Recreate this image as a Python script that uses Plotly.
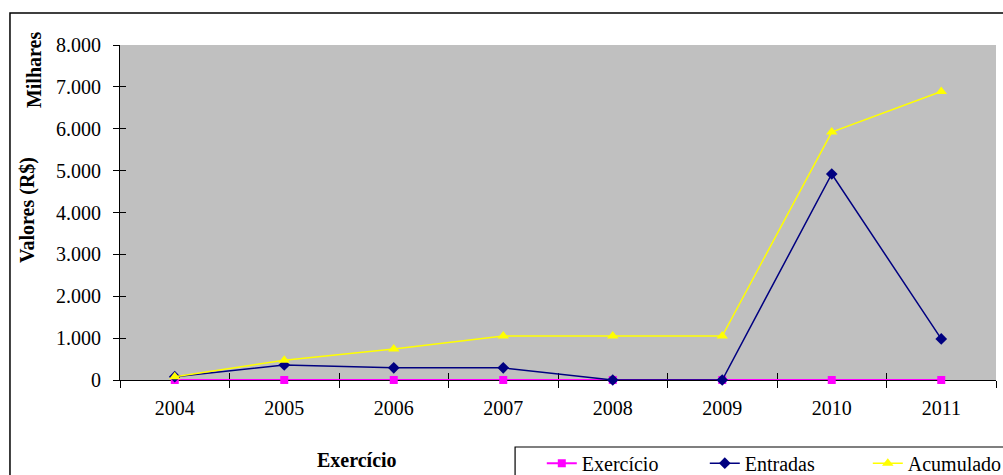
import plotly.graph_objects as go

anos = ["2004", "2005", "2006", "2007", "2008", "2009", "2010", "2011"]
exercicio = [0, 0, 0, 0, 0, 0, 0, 0]
entradas = [80, 360, 290, 290, 0, 0, 4920, 980]
acumulado = [80, 470, 740, 1050, 1050, 1050, 5920, 6890]
yticks = [0, 1000, 2000, 3000, 4000, 5000, 6000, 7000, 8000]

FONT = "Liberation Serif"
FS = 20

fig = go.Figure()
fig.add_trace(go.Scatter(x=anos, y=exercicio, name="Exercício", mode="lines+markers",
                         line=dict(color="#FF00FF", width=2),
                         marker=dict(symbol="square", size=8, color="#FF00FF"),
                         cliponaxis=False))
fig.add_trace(go.Scatter(x=anos, y=entradas, name="Entradas", mode="lines+markers",
                         line=dict(color="#000080", width=1.5),
                         marker=dict(symbol="diamond", size=9, color="#000080"),
                         cliponaxis=False))
fig.add_trace(go.Scatter(x=anos, y=acumulado, name="Acumulado", mode="lines+markers",
                         line=dict(color="#FFFF00", width=1.5),
                         marker=dict(symbol="triangle-up", size=10, color="#FFFF00"),
                         cliponaxis=False))
# invisible traces carrying the inner halves of the crossing ticks
fig.add_trace(go.Scatter(x=anos, y=exercicio, xaxis="x2", showlegend=False,
                         mode="none", hoverinfo="skip"))
fig.add_trace(go.Scatter(x=anos, y=exercicio, yaxis="y2", showlegend=False,
                         mode="none", hoverinfo="skip"))

fig.update_layout(
    width=1003, height=475,
    margin=dict(l=120, r=7, t=45, b=95, autoexpand=False),
    paper_bgcolor="white", plot_bgcolor="#C0C0C0",
    separators=",.",
    font=dict(family=FONT, size=FS, color="black"),
    xaxis=dict(type="category", tickson="boundaries", ticks="outside", ticklen=7,
               tickcolor="black", showline=True, linecolor="black", linewidth=1,
               showgrid=False, zeroline=False, ticklabelstandoff=10,
               layer="below traces",
               tickfont=dict(family=FONT, size=FS), range=[-0.5, 7.5]),
    xaxis2=dict(type="category", overlaying="x", tickson="boundaries", ticks="inside",
                ticklen=7, tickcolor="black", showticklabels=False, showgrid=False,
                showline=False, zeroline=False, range=[-0.5, 7.5], side="bottom",
                anchor="y", matches="x", layer="below traces"),
    yaxis=dict(range=[0, 8000], tickvals=yticks,
               tickformat=",d", ticks="outside", ticklen=6, tickcolor="black",
               showline=True, linecolor="black", linewidth=1, showgrid=False,
               zeroline=False, ticklabelstandoff=8, layer="below traces",
               tickfont=dict(family=FONT, size=FS)),
    yaxis2=dict(overlaying="y", range=[0, 8000], tickvals=yticks,
                ticks="inside", ticklen=6, tickcolor="black",
                showticklabels=False, showgrid=False, showline=False,
                zeroline=False, side="left", matches="y", layer="below traces"),
    legend=dict(orientation="h", x=0.4815, xanchor="left", y=-0.19, yanchor="top",
                borderwidth=0, bgcolor="rgba(0,0,0,0)",
                font=dict(family=FONT, size=FS), entrywidth=118, itemwidth=30,
                tracegroupgap=0),
    showlegend=True,
)

# chart border
fig.add_shape(type="rect", xref="paper", yref="paper", x0=-0.1256, x1=1.02,
              y0=-0.4, y1=1.0955, line=dict(color="black", width=1.5),
              fillcolor="rgba(0,0,0,0)", layer="below")
# legend box
fig.add_shape(type="rect", xref="paper", yref="paper", x0=0.451, x1=1.02,
              y0=-0.4, y1=-0.2, line=dict(color="black", width=1.2),
              fillcolor="white", layer="below")

fig.add_annotation(text="<b>Valores (R$)</b>", xref="paper", yref="paper",
                   x=-0.1062, y=0.507, textangle=-90, showarrow=False,
                   xanchor="center", yanchor="middle",
                   font=dict(family=FONT, size=FS))
fig.add_annotation(text="<b>Milhares</b>", xref="paper", yref="paper",
                   x=-0.0982, y=0.928, textangle=-90, showarrow=False,
                   xanchor="center", yanchor="middle",
                   font=dict(family=FONT, size=FS))
fig.add_annotation(text="<b>Exercício</b>", xref="paper", yref="paper",
                   x=0.2705, y=-0.24, showarrow=False,
                   xanchor="center", yanchor="middle",
                   font=dict(family=FONT, size=FS))

fig.write_html("out.html", post_script="document.body.style.margin='0';",
               config={"displayModeBar": False})
